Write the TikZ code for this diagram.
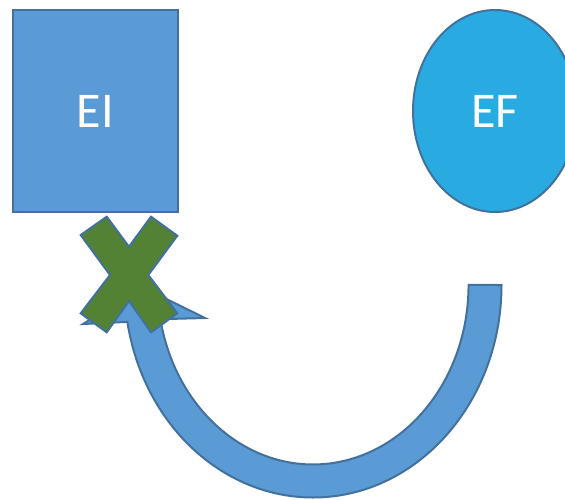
\documentclass[tikz,border=0pt]{standalone}
\usepackage{fontspec}
\setmainfont{Carlito}
\usetikzlibrary{shapes.geometric}
\definecolor{boxblue}{HTML}{5B9BD5}
\definecolor{edgeblue}{HTML}{41719C}
\definecolor{skyblue}{HTML}{29ABE2}
\definecolor{crossgreen}{HTML}{548235}
\begin{document}
\begin{tikzpicture}[x=1pt, y=-1pt,
    block/.style={draw=edgeblue, line width=2pt, text=white, inner sep=0pt,
        font=\fontsize{50}{50}\selectfont}]
    \useasboundingbox (0,0) rectangle (565,499);
    \clip (0,0) rectangle (565,499);
    \node[block, fill=boxblue, minimum width=165pt, minimum height=202pt] (EI) at (95.5,111) {\raisebox{-1pt}{EI}};
    \node[block, ellipse, fill=skyblue, minimum width=164pt, minimum height=202pt] (EF) at (495,111) {\raisebox{-1pt}{EF}};
    \coordinate (turn) at (313,285);
    \draw[edgeblue, line width=2pt, fill=boxblue] (501.5,285)
        arc[start angle=0, end angle=170, x radius=188.5, y radius=212.5]
        -- (83,324) -- (142,287) -- (205,318) -- (160.4,319.2)
        arc[start angle=169, end angle=0, x radius=155.5, y radius=179.5] -- cycle;
    \draw[edgeblue, line width=2pt, fill=crossgreen] (80.7,235) -- (106.7,216.7) -- (129,246.7)
        -- (151,216.7) -- (177.3,235.7) -- (148.3,275) -- (177.3,313.3) -- (151,332.3)
        -- (129,301) -- (106.7,332.3) -- (80.7,313.3) -- (110,275) -- cycle;
\end{tikzpicture}
\end{document}
